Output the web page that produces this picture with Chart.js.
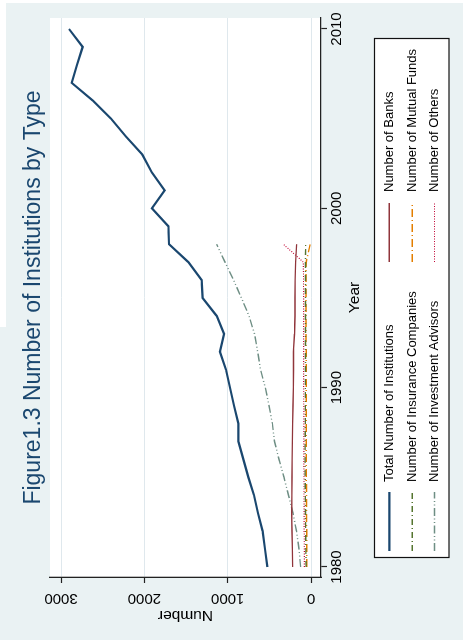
<!DOCTYPE html>
<html>
<head>
<meta charset="utf-8">
<title>Figure1.3 Number of Institutions by Type</title>
<script src="https://cdn.jsdelivr.net/npm/chart.js@4.4.1/dist/chart.umd.min.js"></script>
<style>
    html, body { margin: 0; padding: 0; background: #eaf2f3; overflow: hidden; }
    #frame {
        position: absolute; left: 0; top: 0;
        width: 640px; height: 463px;
        transform-origin: 0 0;
        transform: translate(0, 640px) rotate(-90deg);
    }
    #edge-left { position: absolute; left: 0; top: 0; width: 6px; height: 327px; background: #fff; }
    #edge-top { position: absolute; left: 0; top: 0; width: 463px; height: 3px; background: #fff; }
</style>
</head>
<body>
<div id="frame"><canvas id="institutions-chart" width="640" height="463"></canvas></div>
<div id="edge-left"></div>
<div id="edge-top"></div>
<script>
    const years = [1980, 1981, 1982, 1983, 1984, 1985, 1986, 1987, 1988, 1989, 1990,
        1991, 1992, 1993, 1994, 1995, 1996, 1997, 1998, 1999, 2000,
        2001, 2002, 2003, 2004, 2005, 2006, 2007, 2008, 2009, 2010];

    const totalInstitutions = [524, 552, 580, 636, 684, 752, 812, 872, 872, 924, 972,
        1020, 1092, 1044, 1132, 1300, 1312, 1472, 1704, 1712, 1910,
        1756, 1910, 2024, 2220, 2400, 2616, 2872, 2808, 2740, 2904];
    const banks = [220, 224, 228, 232, 230, 228, 226, 224, 220, 216, 212, 210, 212, 198, 192, 192, 190, 184, 172];
    const insuranceCompanies = [58, 62, 64, 66, 68, 70, 70, 70, 68, 68, 68, 66, 66, 66, 66, 66, 66, 66, 64];
    const mutualFunds = [50, 52, 52, 54, 54, 56, 56, 56, 56, 58, 58, 58, 58, 60, 60, 60, 60, 58, 10];
    const investmentAdvisors = [124, 144, 174, 216, 270, 324, 384, 438, 464, 504, 548, 606, 640, 678, 744, 834, 929, 1032, 1132];
    const others = [80, 80, 82, 82, 84, 84, 86, 86, 86, 86, 88, 88, 88, 88, 88, 88, 90, 92, 332];

    const yearTicks = [1980, 1990, 2000, 2010];
    const numberTicks = [0, 1000, 2000, 3000];

    const fontFamily = '"Liberation Sans", Arial, Helvetica, sans-serif';
    Chart.defaults.font.family = fontFamily;

    // stata-ish plot region: light blue graph region, white plot area
    const backgroundPlugin = {
        id: 'background',
        beforeDraw(chart) {
            const { ctx, chartArea } = chart;
            ctx.save();
            ctx.fillStyle = '#eaf2f3';
            ctx.fillRect(0, 0, chart.width, chart.height);
            ctx.fillStyle = '#ffffff';
            ctx.fillRect(chartArea.left, chartArea.top, chartArea.right - chartArea.left, chartArea.bottom - chartArea.top);
            ctx.restore();
        }
    };

    // two column boxed legend like the original
    const boxedLegend = {
        id: 'boxedLegend',
        afterDraw(chart) {
            const { ctx } = chart;
            const box = { left: 82.5, top: 374.5, right: 601.5, bottom: 449 };
            const rows = [389.3, 412.3, 434.5];
            const cols = [{ line: 89, text: 158 }, { line: 378, text: 448 }];
            const lineLength = 59;

            ctx.save();
            ctx.fillStyle = '#ffffff';
            ctx.fillRect(box.left, box.top, box.right - box.left, box.bottom - box.top);
            ctx.strokeStyle = '#111';
            ctx.lineWidth = 1.2;
            ctx.strokeRect(box.left, box.top, box.right - box.left, box.bottom - box.top);

            ctx.font = '13px ' + fontFamily;
            ctx.textBaseline = 'middle';
            ctx.textAlign = 'left';
            chart.data.datasets.forEach((ds, i) => {
                const col = cols[i % 2];
                const y = rows[Math.floor(i / 2)];
                ctx.strokeStyle = ds.borderColor;
                ctx.lineWidth = ds.borderWidth;
                ctx.setLineDash(ds.borderDash || []);
                ctx.beginPath();
                ctx.moveTo(col.line, y);
                ctx.lineTo(col.line + lineLength, y);
                ctx.stroke();
                ctx.setLineDash([]);
                ctx.fillStyle = '#000';
                ctx.fillText(ds.label, col.text, y);
            });
            ctx.restore();
        }
    };

    const ctx = document.getElementById('institutions-chart').getContext('2d');

    new Chart(ctx, {
        type: 'line',
        data: {
            labels: years,
            datasets: [
                {
                    label: 'Total Number of Institutions',
                    data: totalInstitutions,
                    borderColor: '#1a476f',
                    borderWidth: 2.2,
                },
                {
                    label: 'Number of Banks',
                    data: banks,
                    borderColor: '#90353b',
                    borderWidth: 1.4,
                },
                {
                    label: 'Number of Insurance Companies',
                    data: insuranceCompanies,
                    borderColor: '#55752f',
                    borderWidth: 1.4,
                    borderDash: [6, 3, 1, 3],
                },
                {
                    label: 'Number of Mutual Funds',
                    data: mutualFunds,
                    borderColor: '#e37e00',
                    borderWidth: 1.5,
                    borderDash: [8, 3, 1, 3],
                },
                {
                    label: 'Number of Investment Advisors',
                    data: investmentAdvisors,
                    borderColor: '#6e8e84',
                    borderWidth: 1.4,
                    borderDash: [8, 2.5, 1, 2.5, 1, 2.5],
                },
                {
                    label: 'Number of Others',
                    data: others,
                    borderColor: '#c10534',
                    borderWidth: 1.1,
                    borderDash: [1, 1.5],
                }
            ]
        },
        options: {
            responsive: false,
            animation: false,
            devicePixelRatio: window.devicePixelRatio || 1,
            layout: {
                padding: { left: 0, right: 18, top: 0, bottom: 97 }
            },
            elements: {
                point: { radius: 0, hoverRadius: 0 },
                line: { tension: 0, fill: false }
            },
            scales: {
                x: {
                    type: 'linear',
                    position: 'bottom',
                    min: 1979.442,
                    max: 2010.613,
                    afterBuildTicks: scale => { scale.ticks = yearTicks.map(v => ({ value: v })); },
                    afterFit: scale => { scale.height = 45; },
                    grid: {
                        drawOnChartArea: false,
                        tickLength: 6,
                        tickColor: '#222',
                        tickWidth: 1.2
                    },
                    border: { color: '#222', width: 1.3 },
                    ticks: {
                        color: '#000',
                        font: { size: 15 },
                        padding: 1,
                        maxRotation: 0,
                        callback: value => String(value)
                    },
                    title: {
                        display: true,
                        text: 'Year',
                        color: '#000',
                        font: { size: 15.5 },
                        padding: { top: 0, bottom: 2 }
                    }
                },
                y: {
                    type: 'linear',
                    position: 'left',
                    min: -120,
                    max: 3132,
                    afterBuildTicks: scale => { scale.ticks = numberTicks.map(v => ({ value: v })); },
                    afterFit: scale => { scale.width = 63; },
                    grid: {
                        color: '#dfe8ed',
                        lineWidth: 1,
                        tickLength: 6,
                        tickColor: '#222',
                        tickWidth: 1.2
                    },
                    border: { color: '#222', width: 1.3 },
                    ticks: {
                        color: '#000',
                        font: { size: 15 },
                        minRotation: 90,
                        maxRotation: 90,
                        crossAlign: 'center',
                        padding: -2,
                        callback: value => String(value)
                    },
                    title: {
                        display: true,
                        text: 'Number',
                        color: '#000',
                        font: { size: 15.5 },
                        padding: { top: 15, bottom: 0 }
                    }
                }
            },
            plugins: {
                legend: { display: false },
                tooltip: { enabled: false },
                title: {
                    display: true,
                    text: 'Figure1.3 Number of Institutions by Type',
                    color: '#1a476f',
                    fullSize: false,
                    font: { size: 23, weight: 'normal' },
                    padding: { top: 20.2, bottom: 2.2 }
                }
            }
        },
        plugins: [backgroundPlugin, boxedLegend]
    });
</script>
</body>
</html>
